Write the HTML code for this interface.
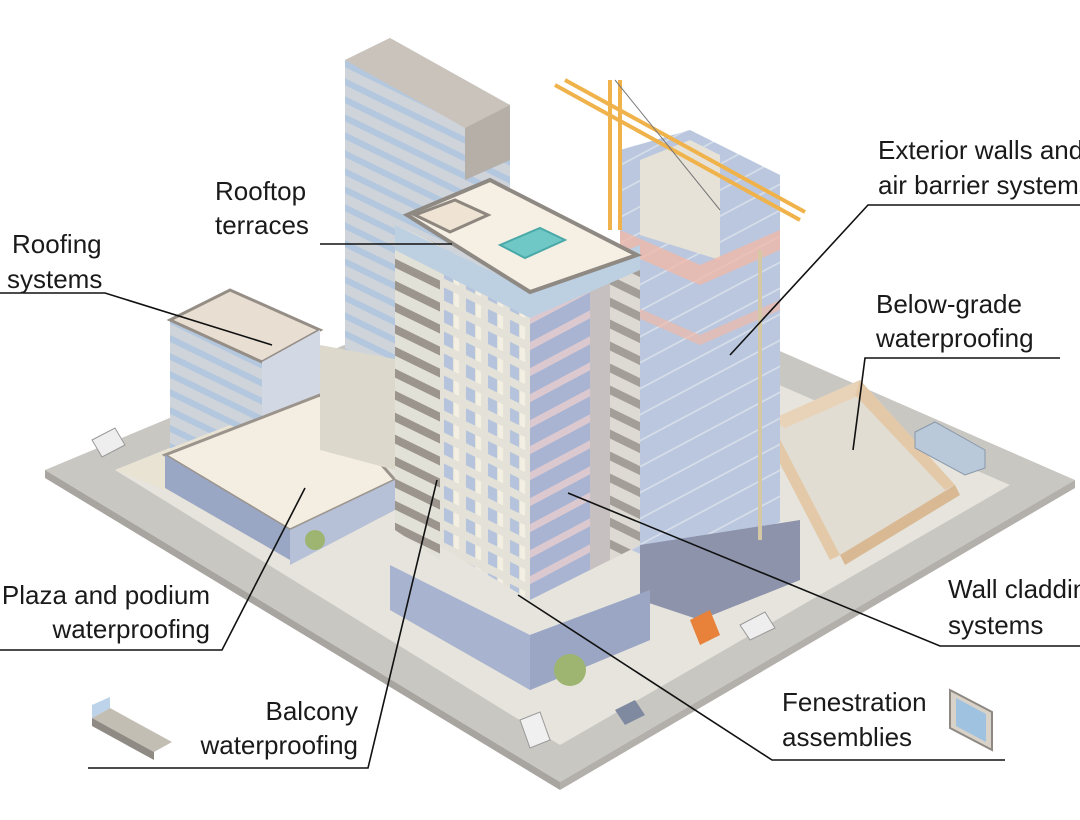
<!DOCTYPE html>
<html><head><meta charset="utf-8"><style>
html,body{margin:0;padding:0;background:#fff;}
svg{display:block}
text{font-family:"Liberation Sans",sans-serif;font-size:26px;fill:#1a1a1a;}
</style></head><body>
<svg width="1080" height="820" viewBox="0 0 1080 820" xmlns="http://www.w3.org/2000/svg">
<defs>
<pattern id="stripesL" width="10" height="18" patternUnits="userSpaceOnUse" patternTransform="skewY(26)">
<rect width="10" height="18" fill="#cfd3da"/><rect width="10" height="7" fill="#b3c8df"/></pattern>
<pattern id="balc" width="10" height="22" patternUnits="userSpaceOnUse" patternTransform="skewY(26)">
<rect width="10" height="22" fill="#e2e1d8"/><rect width="10" height="9" fill="#9c958e"/></pattern>
<pattern id="win" width="22" height="22" patternUnits="userSpaceOnUse" patternTransform="skewY(26)">
<rect width="22" height="22" fill="#e4e2d8"/><rect x="4" y="5" width="9" height="13" fill="#b5c4dc"/><rect x="14" y="5" width="5" height="13" fill="#f4efe3"/></pattern>
<pattern id="pinkR" width="10" height="26" patternUnits="userSpaceOnUse" patternTransform="skewY(-28)">
<rect width="10" height="26" fill="#a9b4d2"/><rect width="10" height="8" fill="#dcc9d0"/></pattern>
<pattern id="constr" width="10" height="26" patternUnits="userSpaceOnUse" patternTransform="skewY(-28)">
<rect width="10" height="26" fill="#bac7de"/><rect width="10" height="2" fill="#d5dde9"/></pattern>
</defs>
<!-- ground -->
<polygon points="45,470 560,255 1075,480 560,782" fill="#c9c7c2"/>
<polygon points="45,470 560,782 560,790 45,478" fill="#a8a5a0"/>
<polygon points="560,782 1075,480 1075,488 560,790" fill="#b3b0ab"/>
<polygon points="115,470 560,290 1010,485 560,745" fill="#e6e4dc"/>
<!-- excavation pit -->
<polygon points="770,420 860,380 955,485 840,555" fill="#e2ddd2"/>
<polygon points="770,420 860,380 860,395 785,428" fill="#e8d3b8"/>
<polygon points="860,380 955,485 945,490 855,395" fill="#e3c9a8"/>
<polygon points="770,420 840,555 830,560 760,425" fill="#e3c9a8"/>
<polygon points="840,555 955,485 960,495 845,565" fill="#d8b994"/>
<!-- bus -->
<polygon points="915,432 935,422 985,450 985,468 965,475 915,448" fill="#b9c9da" stroke="#8a99aa"/>
<!-- left tall tower -->
<polygon points="345,60 390,38 510,105 510,470 345,395" fill="url(#stripesL)"/>
<polygon points="345,60 390,38 510,105 465,128" fill="#c9c3bb"/>
<polygon points="465,128 510,105 510,160 465,180" fill="#b5afa8"/>
<!-- left low building -->
<polygon points="170,320 230,290 320,330 320,500 170,450" fill="url(#stripesL)"/>
<polygon points="170,320 230,290 320,330 262,362" fill="#e8dfd2" stroke="#958e86" stroke-width="3"/>
<polygon points="262,362 320,330 320,500 262,530" fill="#d3d9e4"/>
<!-- podium / plaza -->
<polygon points="115,470 230,425 395,490 290,540" fill="#e9e3d4"/>
<polygon points="165,455 320,395 395,480 290,530" fill="#f4ede2" stroke="#9b948c" stroke-width="3"/>
<polygon points="165,455 290,530 290,560 165,488" fill="#9aa7c4"/>
<polygon points="290,530 395,480 395,510 290,565" fill="#b6c0d6"/>
<polygon points="320,345 400,360 395,470 320,450" fill="#dcd9cc"/>
<!-- construction tower -->
<polygon points="620,150 690,130 780,175 780,545 700,580 620,545" fill="url(#constr)"/>
<polygon points="640,160 690,140 720,155 720,260 640,235" fill="#e6e2d8"/>
<polygon points="620,230 700,265 780,230 780,250 700,285 620,250" fill="#f0b9a9" opacity=".8"/>
<polygon points="620,300 700,335 780,300 780,310 700,345 620,310" fill="#f0b9a9" opacity=".7"/>
<polygon points="640,545 800,520 800,580 700,620 640,600" fill="#8c93ab"/>
<!-- crane -->
<g stroke="#f0b24a" stroke-width="4" fill="none">
<line x1="610" y1="80" x2="610" y2="230"/><line x1="620" y1="80" x2="620" y2="230"/>
<line x1="555" y1="85" x2="800" y2="220"/><line x1="565" y1="80" x2="805" y2="212"/>
<line x1="760" y1="250" x2="760" y2="540" stroke="#d6c7a5"/>
</g>
<line x1="615" y1="80" x2="720" y2="210" stroke="#777" stroke-width="1"/>
<!-- central tower -->
<polygon points="395,225 530,290 530,600 395,520" fill="url(#win)"/>
<polygon points="395,225 440,245 440,560 395,530" fill="url(#balc)"/>
<polygon points="530,290 640,245 640,545 530,600" fill="url(#pinkR)"/>
<polygon points="590,270 640,245 640,545 590,570" fill="#c6c0c0"/>
<polygon points="610,265 640,250 640,545 610,560" fill="url(#balc)" opacity=".8"/>
<polygon points="395,225 530,290 640,245 640,270 530,318 395,250" fill="#bdd0e2"/>
<!-- roof -->
<polygon points="407,215 490,180 637,255 530,292" fill="#f5efe4" stroke="#8f8983" stroke-width="4"/>
<polygon points="500,245 540,228 565,240 525,258" fill="#6fc8c6" stroke="#4aa9a8" stroke-width="2"/>
<polygon points="415,215 455,200 488,215 450,232" fill="#efe4d3" stroke="#8d877f" stroke-width="3"/>
<!-- base podium central -->
<polygon points="390,565 530,635 650,590 650,640 530,690 390,610" fill="#a8b4cf"/>
<polygon points="530,635 650,590 650,640 530,690" fill="#9ba6c4"/>
<!-- trees / vehicles -->
<circle cx="315" cy="540" r="10" fill="#9db570"/><circle cx="570" cy="670" r="16" fill="#9db570"/>
<polygon points="520,720 540,712 550,740 530,748" fill="#f0f0f0" stroke="#999"/>
<polygon points="690,620 710,610 720,635 700,645" fill="#e8823a"/>
<polygon points="615,710 635,700 645,715 625,725" fill="#7f8aa0"/>
<polygon points="92,440 115,428 125,445 102,457" fill="#eee" stroke="#999"/>
<polygon points="740,625 765,612 775,628 750,640" fill="#eee" stroke="#999"/>
<!-- balcony icon -->
<polygon points="92,718 110,708 172,742 154,752" fill="#c3beb4"/>
<polygon points="92,718 154,752 154,760 92,726" fill="#8f8a83"/>
<polygon points="92,705 110,697 110,708 92,718" fill="#bcd3ea"/>
<!-- window icon -->
<polygon points="950,690 992,712 992,750 950,728" fill="#d8d2c8" stroke="#8f8983" stroke-width="2"/>
<polygon points="956,698 986,714 986,742 956,726" fill="#9fc2e0"/>
<!-- leader lines -->
<g stroke="#111" stroke-width="1.6" fill="none">
<polyline points="320,244 452,244"/>
<polyline points="0,293 105,293 272,345"/>
<polyline points="1080,205 868,205 730,355"/>
<polyline points="1060,358 865,358 853,450"/>
<polyline points="1080,646 940,646 568,493"/>
<polyline points="1005,760 772,760 518,595"/>
<polyline points="88,768 368,768 437,480"/>
<polyline points="0,650 222,650 305,488"/>
</g>
<text x="215" y="200">Rooftop</text><text x="215" y="234">terraces</text>
<text x="12" y="253">Roofing</text><text x="7" y="288">systems</text>
<text x="878" y="159">Exterior walls and</text><text x="878" y="194">air barrier systems</text>
<text x="876" y="313">Below-grade</text><text x="876" y="347">waterproofing</text>
<text x="948" y="598">Wall cladding</text><text x="948" y="634">systems</text>
<text x="782" y="711">Fenestration</text><text x="782" y="746">assemblies</text>
<text x="358" y="720" text-anchor="end">Balcony</text><text x="358" y="754" text-anchor="end">waterproofing</text>
<text x="210" y="604" text-anchor="end">Plaza and podium</text><text x="210" y="638" text-anchor="end">waterproofing</text>
</svg>
</body></html>
